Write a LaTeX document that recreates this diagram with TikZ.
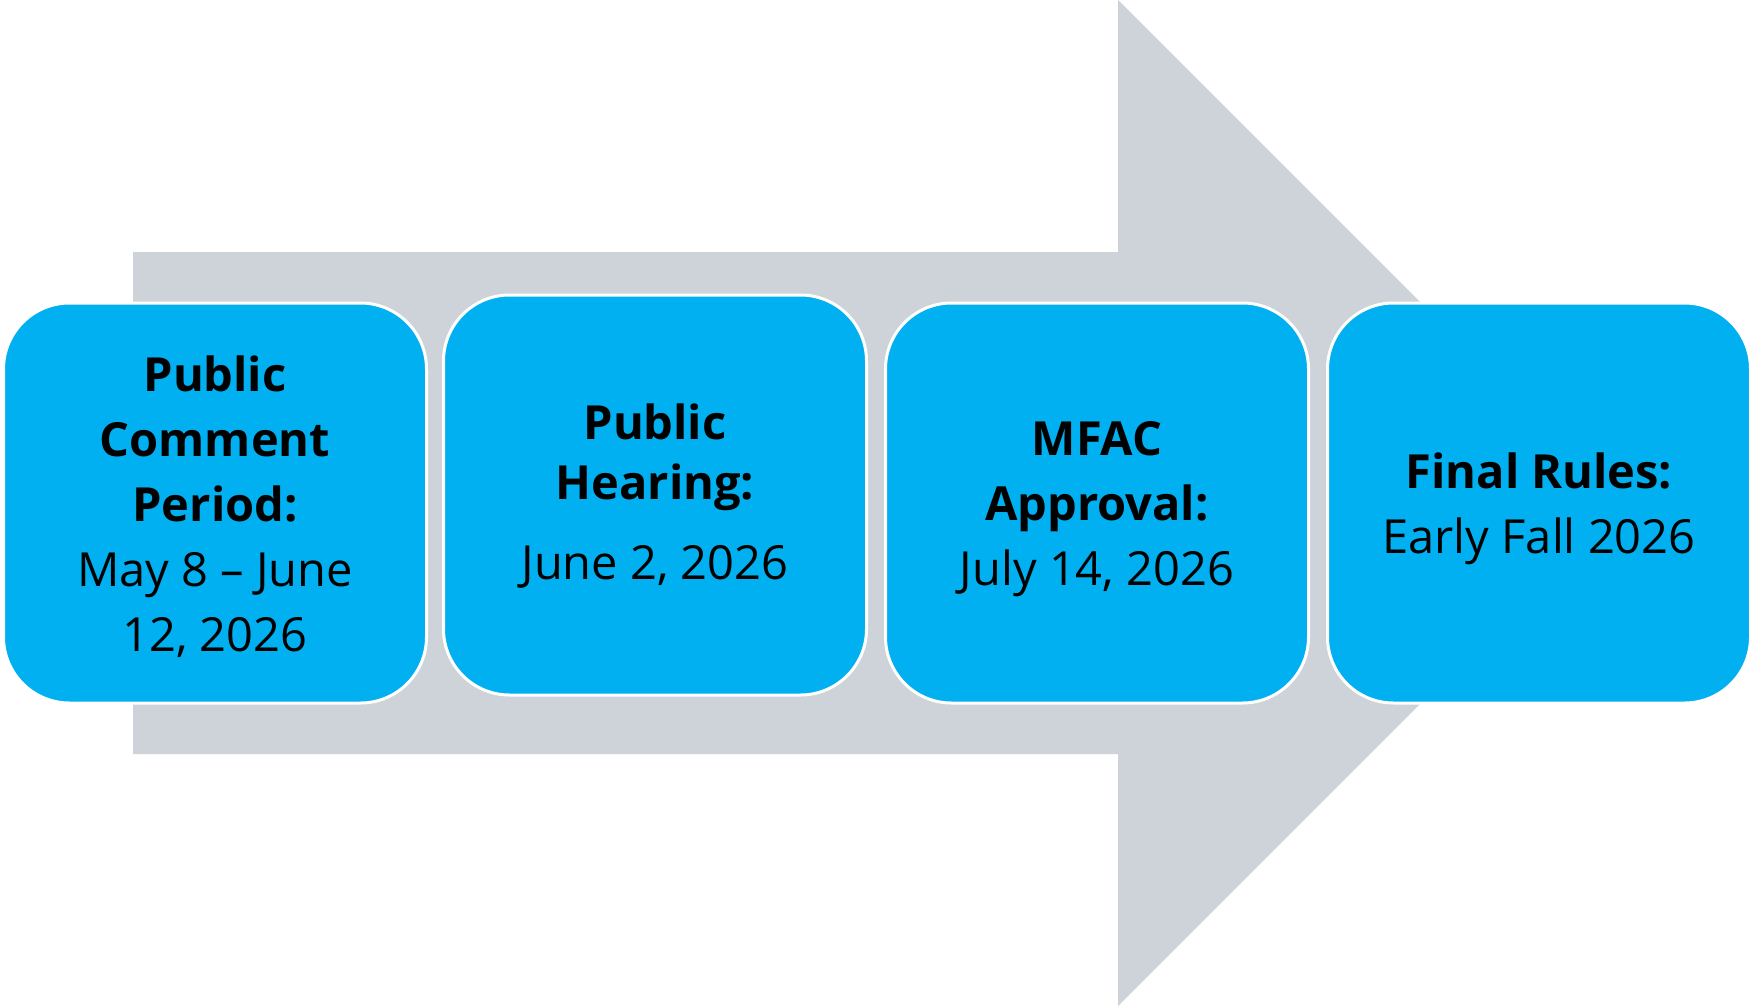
\documentclass[tikz,border=0pt]{standalone}
\usepackage{fontspec}
\setmainfont{Open Sans}
\definecolor{boxblue}{HTML}{00B0F0}
\definecolor{arrowgray}{HTML}{CED3DA}
\begin{document}
\begin{tikzpicture}[x=0.5pt,y=-0.5pt,
  stage/.style={draw=white, line width=1.5pt, fill=boxblue, rounded corners=33pt,
    minimum width=211.5pt, minimum height=200pt, inner sep=0pt},
  stagetext/.style={align=center, inner sep=0pt,
    font=\fontsize{23.5}{32.5}\selectfont, text=black}]
\useasboundingbox (0,0) rectangle (1750,1006);
\fill[arrowgray] (133,252) -- (1118,252) -- (1118,0) -- (1621,503) -- (1118,1006) -- (1118,754) -- (133,754) -- cycle;
\node[stage] (s1) at (215,503) {};
\node[stage] (s2) at (655,495) {};
\node[stage] (s3) at (1097,503) {};
\node[stage] (s4) at (1539,503) {};
\node[stagetext, yshift=-1.7pt] (t1) at (s1.center) {\textbf{Public}\\\textbf{Comment}\\\textbf{Period:}\\May 8 – June\\12, 2026};
\node[stagetext, yshift=-0.6pt] (t2) at (s2.center) {\textbf{Public}\\[-2.5pt]\textbf{Hearing:}\\[7.5pt]June 2, 2026};
\node[stagetext, yshift=-3.3pt] (t3) at (s3.center) {\textbf{MFAC}\\\textbf{Approval:}\\July 14, 2026};
\node[stagetext, yshift=-2.8pt] (t4) at (s4.center) {\textbf{Final Rules:}\\Early Fall 2026};
\end{tikzpicture}
\end{document}
